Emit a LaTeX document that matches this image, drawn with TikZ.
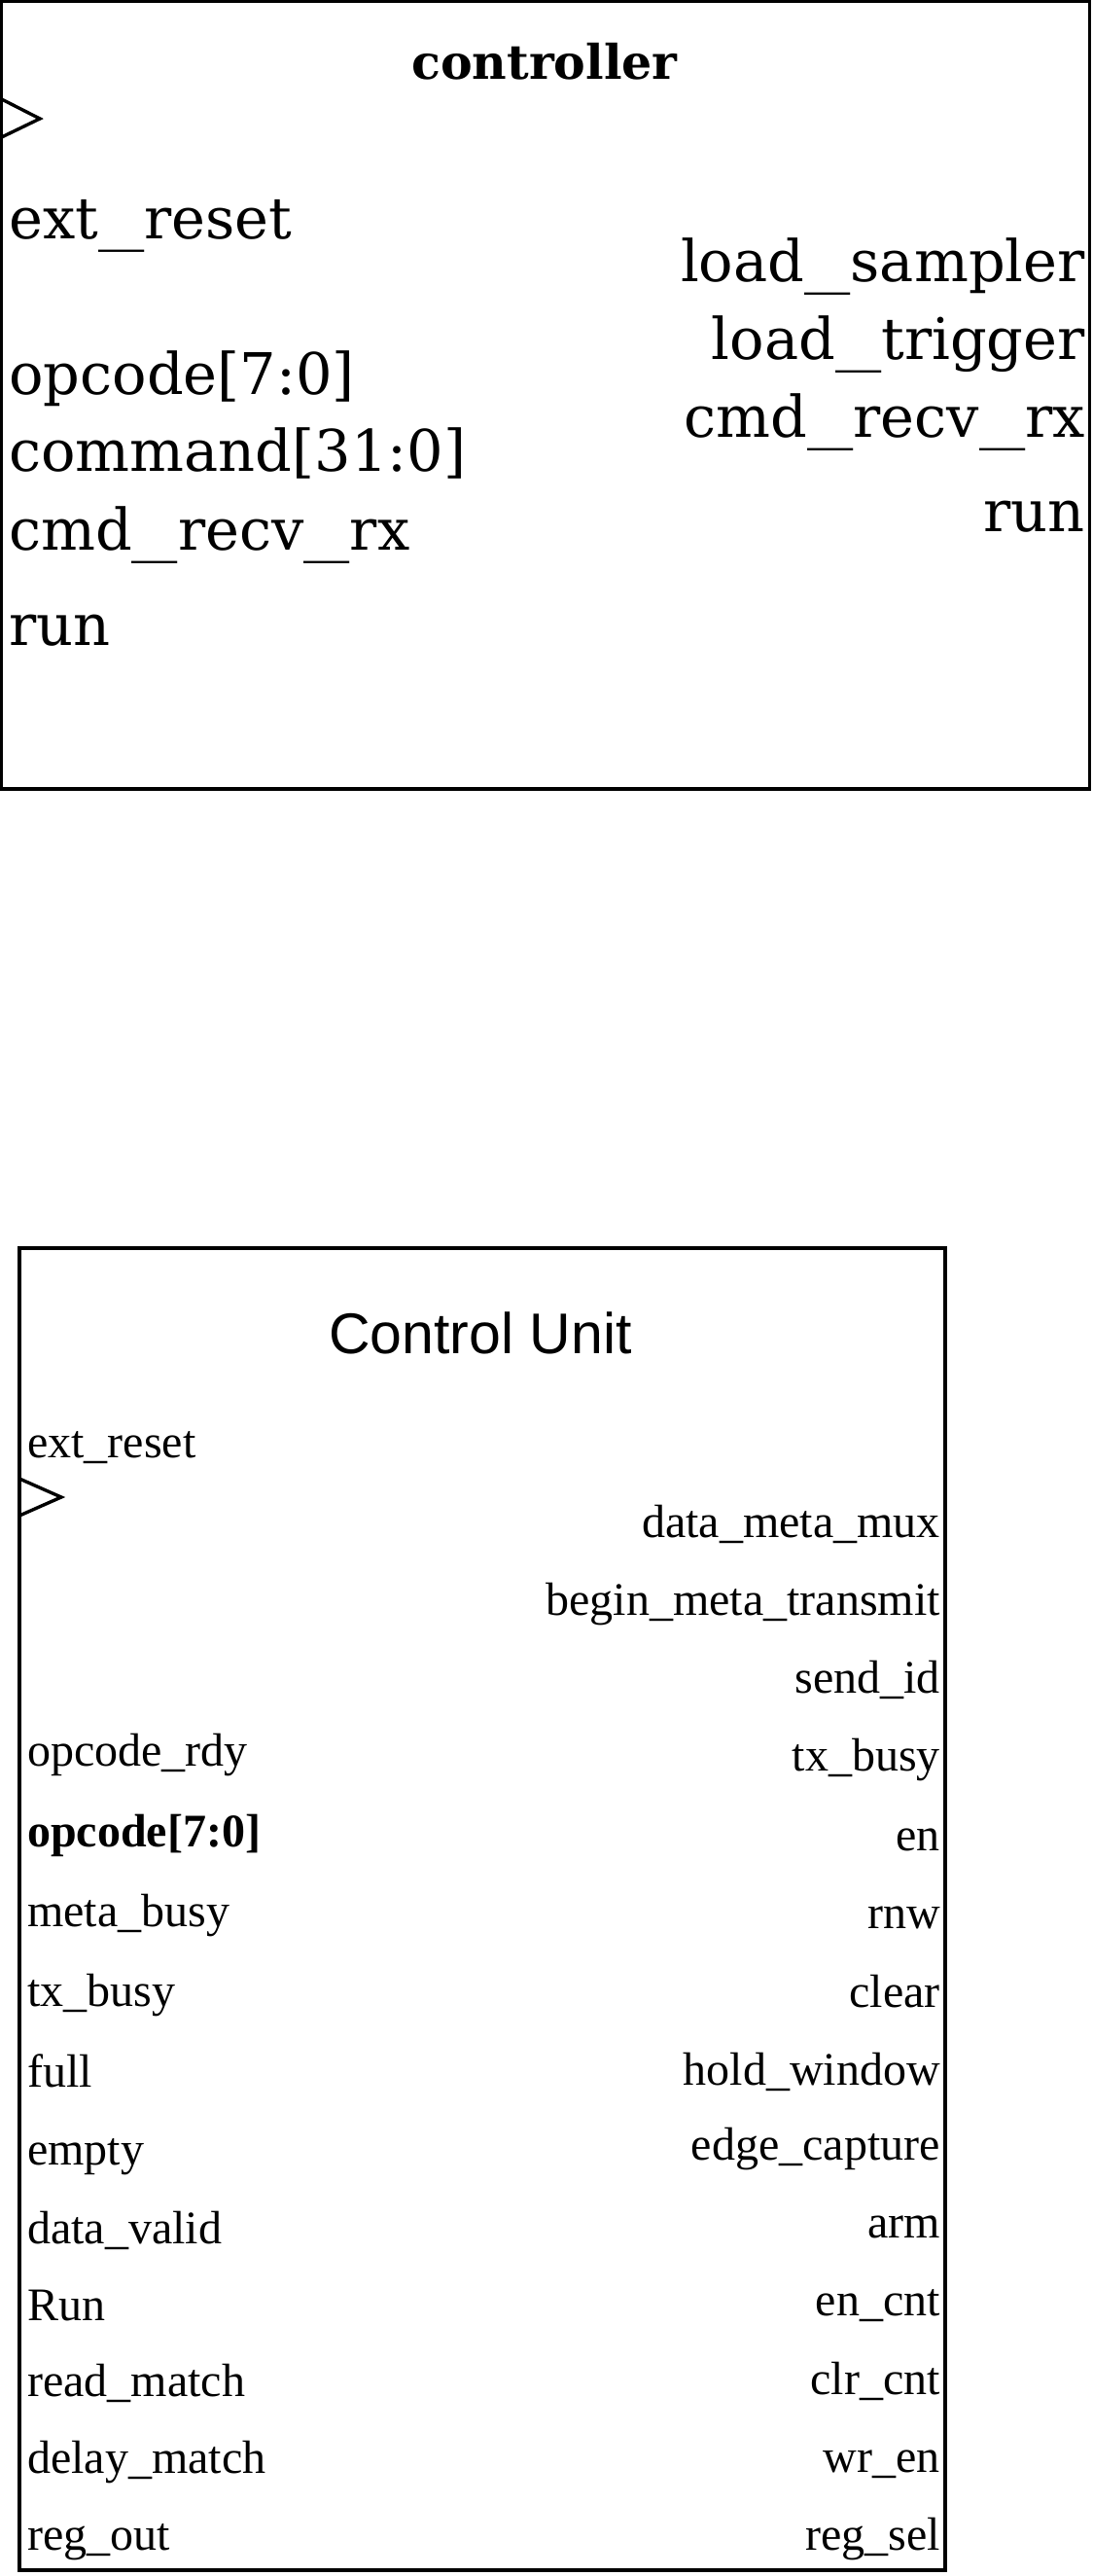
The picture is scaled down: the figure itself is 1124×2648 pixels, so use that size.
\documentclass[tikz,border=0pt]{standalone}
\usepackage{graphicx}
\usepackage{fontspec}
\setmainfont{Liberation Serif}
\newfontfamily\topserif{DejaVu Serif}
\newfontfamily\cusans{Liberation Sans}
\newcommand{\wus}{\scalebox{1.6}[1]{\_}}
\begin{document}
\begin{tikzpicture}[x=1pt,y=-1pt,
  box/.style={draw=black,line width=3.4pt},
  clk/.style={draw=black,line width=3.4pt,line join=miter},
  toplbl/.style={inner sep=0pt,font=\topserif\fontsize{59}{62}\selectfont},
  toptitle/.style={inner sep=0pt,anchor=base,font=\topserif\bfseries\fontsize{49}{52}\selectfont},
  botlbl/.style={inner sep=0pt,font=\fontsize{48}{50}\selectfont},
  bottitle/.style={inner sep=0pt,anchor=base,font=\cusans\fontsize{59}{62}\selectfont}]
\useasboundingbox (0,0) rectangle (1124,2648);
% ---------- controller ----------
\draw[box] (1.7,1.7) rectangle (1120.5,811);
\draw[clk] (1.7,102) -- (41,122) -- (1.7,141);
\node[toptitle] (ctitle) at (560,81) {controller};
\node[toplbl,anchor=base west] (c1) at (9,245) {ext\wus reset};
\node[toplbl,anchor=base west] (c2) at (9,405) {opcode[7:0]};
\node[toplbl,anchor=base west] (c3) at (9,484) {command[31:0]};
\node[toplbl,anchor=base west] (c4) at (9,565) {cmd\wus recv\wus rx};
\node[toplbl,anchor=base west] (c5) at (9,663) {run};
\node[toplbl,anchor=base east] (c6) at (1116,289) {load\wus sampler};
\node[toplbl,anchor=base east] (c7) at (1116,369) {load\wus trigger};
\node[toplbl,anchor=base east] (c8) at (1116,449) {cmd\wus recv\wus rx};
\node[toplbl,anchor=base east] (c9) at (1116,546) {run};
% ---------- Control Unit ----------
\draw[box] (20,1283) rectangle (972,2642);
\draw[clk] (20,1520) -- (63,1539) -- (20,1558);
\node[bottitle] (utitle) at (494,1391) {Control Unit};
\node[botlbl,anchor=base west] (l1) at (28,1498) {ext\_reset};
\node[botlbl,anchor=base west] (l2) at (28,1815) {opcode\_rdy};
\node[botlbl,anchor=base west,font=\bfseries\fontsize{48}{50}\selectfont] (l3) at (28,1898) {opcode[7:0]};
\node[botlbl,anchor=base west] (l4) at (28,1980) {meta\_busy};
\node[botlbl,anchor=base west] (l5) at (28,2062) {tx\_busy};
\node[botlbl,anchor=base west] (l6) at (28,2145) {full};
\node[botlbl,anchor=base west] (l7) at (28,2225) {empty};
\node[botlbl,anchor=base west] (l8) at (28,2306) {data\_valid};
\node[botlbl,anchor=base west] (l9) at (28,2385) {Run};
\node[botlbl,anchor=base west] (l10) at (28,2463) {read\_match};
\node[botlbl,anchor=base west] (l11) at (28,2542) {delay\_match};
\node[botlbl,anchor=base west] (l12) at (28,2621) {reg\_out};
\node[botlbl,anchor=base east] (r1) at (967,1580) {data\_meta\_mux};
\node[botlbl,anchor=base east] (r2) at (967,1660) {begin\_meta\_transmit};
\node[botlbl,anchor=base east] (r3) at (967,1740) {send\_id};
\node[botlbl,anchor=base east] (r4) at (967,1820) {tx\_busy};
\node[botlbl,anchor=base east] (r5) at (967,1902) {en};
\node[botlbl,anchor=base east] (r6) at (967,1982) {rnw};
\node[botlbl,anchor=base east] (r7) at (967,2063) {clear};
\node[botlbl,anchor=base east] (r8) at (967,2143) {hold\_window};
\node[botlbl,anchor=base east] (r9) at (967,2220) {edge\_capture};
\node[botlbl,anchor=base east] (r10) at (967,2300) {arm};
\node[botlbl,anchor=base east] (r11) at (967,2380) {en\_cnt};
\node[botlbl,anchor=base east] (r12) at (967,2461) {clr\_cnt};
\node[botlbl,anchor=base east] (r13) at (967,2541) {wr\_en};
\node[botlbl,anchor=base east] (r14) at (967,2621) {reg\_sel};
\end{tikzpicture}
\end{document}
